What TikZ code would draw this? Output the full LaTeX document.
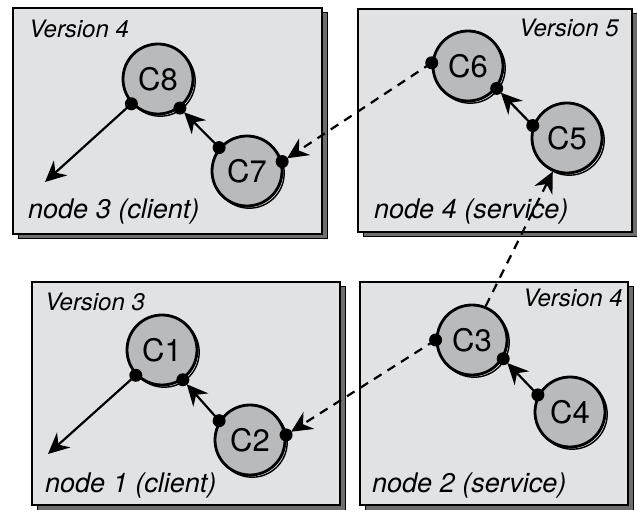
\documentclass[tikz,border=0pt]{standalone}
\usepackage{fontspec}
\setmainfont{TeX Gyre Heros}
\usetikzlibrary{arrows.meta}

\definecolor{panelfill}{HTML}{E1E2E4}
\definecolor{panelshadow}{HTML}{6E6E6E}
\definecolor{compfill}{HTML}{B9BABC}

\tikzset{
  panel/.style={draw=black, line width=1.6pt, fill=panelfill},
  panelshade/.style={draw=black, line width=1pt, fill=panelshadow},
  comp/.style={circle, draw=black, line width=2.8pt, fill=compfill,
    minimum size=70pt, inner sep=0pt, font=\fontsize{31}{36}\selectfont},
  compshade/.style={circle, draw=black, line width=1.4pt,
    minimum size=70pt, inner sep=0pt},
  port/.style={fill=black},
  link/.style={line width=2.2pt, -{Stealth[length=21pt,width=20pt,inset=7pt]}},
  toport/.style={shorten >=6pt},
  remote/.style={link, dash pattern=on 9pt off 7pt},
  versionW/.style={font=\fontsize{24}{28}\selectfont\itshape, anchor=base west, inner sep=0pt},
  versionE/.style={font=\fontsize{24}{28}\selectfont\itshape, anchor=base east, inner sep=0pt},
  hostlabel/.style={font=\fontsize{27}{32}\selectfont\itshape, anchor=base west, inner sep=0pt},
}

\begin{document}
\begin{tikzpicture}[x=1pt, y=-1pt]
\useasboundingbox (0,0) rectangle (637,510);

% host panels with drop shadows
\draw[panelshade] (18,13) rectangle (327,239);
\draw[panel] (13,8) rectangle (322,234);
\draw[panelshade] (363,14) rectangle (637,237);
\draw[panel] (358,9) rectangle (632,232);
\draw[panelshade] (37,287) rectangle (345,510);
\draw[panel] (32,282) rectangle (340,505);
\draw[panelshade] (365,287) rectangle (633,510);
\draw[panel] (360,282) rectangle (628,505);

% panel captions
\node[versionW] (v3a) at (29,38) {Version 4};
\node[hostlabel] (h3) at (28,219) {node 3 (client)};
\node[versionE] (v4a) at (619,37) {Version 5};
\node[hostlabel] (h4) at (374,219) {node 4 (service)};
\node[versionW] (v1a) at (45,311) {Version 3};
\node[hostlabel] (h1) at (45,492) {node 1 (client)};
\node[versionE] (v2a) at (623,307) {Version 4};
\node[hostlabel] (h2) at (372,492) {node 2 (service)};

% components
\foreach \n/\x/\y in {c8/158/79, c7/247/171, c6/468/66, c5/567/138,
                      c1/162/350, c2/250/440, c3/472/340, c4/570/412} {
  \node[compshade] at (\x+2.2,\y+2.2) {};
}
\node[comp] (c8) at (158,79) {C8};
\node[comp] (c7) at (247,171) {C7};
\node[comp] (c6) at (468,66) {C6};
\node[comp] (c5) at (567,138) {C5};
\node[comp] (c1) at (162,350) {C1};
\node[comp] (c2) at (250,440) {C2};
\node[comp] (c3) at (472,340) {C3};
\node[comp] (c4) at (570,412) {C4};

\coordinate (out3) at (45,182);
\coordinate (out1) at (48,454);

% local calls
\draw[link, toport] (c7.140) -- (c8.307);
\draw[link] (c8.223) -- (out3);
\draw[link, toport] (c5.160) -- (c6.322);
\draw[link, toport] (c2.148) -- (c1.305);
\draw[link] (c1.224) -- (out1);
\draw[link, toport] (c4.152) -- (c3.329);

% remote calls
\draw[remote, toport] (c6.175) -- (c7.15);
\draw[remote, toport] (c3.180) -- (c2.8);
\draw[remote] (c3.68) -- (c5.247);

% ports
\foreach \p in {c8.223, c8.307, c7.140, c7.15, c6.175, c6.322, c5.160,
                c1.224, c1.305, c2.148, c2.8, c3.180, c3.329, c4.152} {
  \fill[port] (\p) circle (6.5pt);
}
\end{tikzpicture}
\end{document}
